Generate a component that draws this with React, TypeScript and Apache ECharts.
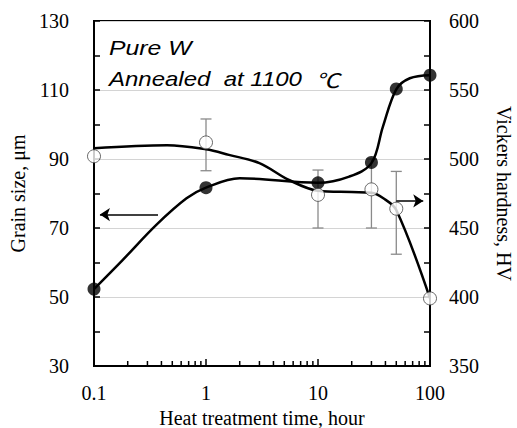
import React, { useEffect, useRef } from "react";
import * as echarts from "echarts";

// Measured points
const timeHours = [0.1, 1, 10, 30, 50, 100];
const grainSize = [52.3, 81.7, 83.1, 89.0, 110.3, 114.3];
const hardness = [502, 512, 474, 478, 464, 399];
const hardnessLow = [null, 491.5, 450, 450, 431, null];
const hardnessHigh = [null, 529, 492, 500, 491, null];

// Trend curves as drawn in the figure
const grainCurveTime = [0.1, 0.18, 0.36, 0.67, 1, 2, 10, 19, 30, 38, 50, 66, 100];
const grainCurve = [52.3, 60.7, 70.9, 78.6, 81.7, 84.4, 83.1, 84.9, 88.8, 99.4, 110.2, 113.4, 114.3];
const hardnessCurveTime = [0.1, 0.45, 1, 1.6, 3, 5.5, 10, 20, 30, 38, 50, 100];
const hardnessCurve = [507.8, 510, 507, 503, 497, 484.8, 477, 476, 475.5, 471.7, 463, 399];

// Axis ticks
const xMinorTicks = [0.2, 0.3, 0.4, 0.5, 0.6, 0.7, 0.8, 0.9, 2, 3, 4, 5, 6, 7, 8, 9, 20, 30, 40, 50, 60, 70, 80, 90];

// Arrows (data coordinates)
const leftArrowFrom = [0.373, 73.9];
const leftArrowTo = [0.113, 73.9];
const rightArrowFrom = [50, 469.6];
const rightArrowTo = [87, 469.6];

const serif = '"Liberation Serif", "Times New Roman", serif';
const italicFont = 'italic 20px "Liberation Sans", "Noto Sans CJK JP", sans-serif';

export default function App() {
  const ref = useRef<HTMLDivElement>(null);
  useEffect(() => {
    if (!ref.current) return;
    const chart = echarts.init(ref.current, null, { renderer: "svg" });
    const labelStyle = { fontFamily: serif, fontSize: 20, color: "#000" };
    const option: any = {
      animation: false,
      backgroundColor: "#fff",
      grid: {
        left: 94,
        right: 87,
        top: 21,
        bottom: 62,
        outerBoundsMode: "none",
        containLabel: false,
        show: true,
        borderColor: "#000",
        borderWidth: 2,
        backgroundColor: "transparent",
      },
      xAxis: {
        type: "log",
        logBase: 10,
        min: 0.1,
        max: 100,
        name: "Heat treatment time, hour",
        nameLocation: "middle",
        nameGap: 39,
        nameTextStyle: { ...labelStyle },
        axisLine: { lineStyle: { color: "#000", width: 2 } },
        axisTick: { show: true, inside: true, length: 7, lineStyle: { color: "#000", width: 1.5 } },
        minorTick: { show: false },
        splitLine: { show: false },
        axisLabel: {
          ...labelStyle,
          margin: 17,
          formatter: (v: number) => String(+v.toPrecision(3)),
        },
      },
      yAxis: [
        {
          type: "value",
          min: 30,
          max: 130,
          interval: 20,
          position: "left",
          name: "Grain size, μm",
          nameLocation: "middle",
          nameGap: 64,
          nameTextStyle: { ...labelStyle },
          axisLine: { show: true, lineStyle: { color: "#000", width: 2 } },
          axisTick: { show: true, inside: true, length: 6, lineStyle: { color: "#000", width: 1.5 } },
          minorTick: { show: true, splitNumber: 2, length: 6, lineStyle: { color: "#000", width: 1.5 } },
          splitLine: { show: true, lineStyle: { color: "#d4d4d4", width: 1 } },
          axisLabel: { ...labelStyle, margin: 25 },
        },
        {
          type: "value",
          min: 350,
          max: 600,
          interval: 50,
          position: "right",
          name: "Vickers hardness, HV",
          nameLocation: "middle",
          nameRotate: -90,
          nameGap: 64,
          nameTextStyle: { ...labelStyle },
          axisLine: { show: true, lineStyle: { color: "#000", width: 2 } },
          axisTick: { show: true, inside: true, length: 6, lineStyle: { color: "#000", width: 1.5 } },
          minorTick: { show: true, splitNumber: 2, length: 6, lineStyle: { color: "#000", width: 1.5 } },
          splitLine: { show: false },
          axisLabel: { ...labelStyle, margin: 19 },
        },
      ],
      graphic: [
        { type: "text", x: 109, y: 38, scaleX: 1.24, z: 100, style: { text: "Pure W", font: italicFont, fill: "#000", verticalAlign: "top" } },
        {
          type: "text",
          x: 109,
          y: 69,
          scaleX: 1.2,
          z: 100,
          style: {
            text: "{a|Annealed  at 1100  }{c|℃}",
            fill: "#000",
            verticalAlign: "top",
            rich: {
              a: { fontStyle: "italic", fontSize: 20, fontFamily: '"Liberation Sans", sans-serif', color: "#000" },
              c: { fontStyle: "italic", fontSize: 20, fontFamily: '"Noto Sans CJK JP", sans-serif', color: "#000" },
            },
          },
        },
      ],
      series: [
        {
          type: "custom",
          name: "xMinor",
          xAxisIndex: 0,
          yAxisIndex: 0,
          silent: true,
          clip: false,
          z: 5,
          data: xMinorTicks.map((v) => [v, 30]),
          renderItem: (params: any, api: any) => {
            const p = api.coord([api.value(0), api.value(1)]);
            return { type: "line", shape: { x1: p[0], y1: p[1], x2: p[0], y2: p[1] - 5 }, style: { stroke: "#000", lineWidth: 1.5 } };
          },
        },
        {
          type: "custom",
          name: "errors",
          yAxisIndex: 1,
          silent: true,
          z: 1,
          data: timeHours
            .map((t, i) => [t, hardnessLow[i], hardnessHigh[i]])
            .filter((d) => d[1] != null),
          renderItem: (params: any, api: any) => {
            const lo = api.coord([api.value(0), api.value(1)]);
            const hi = api.coord([api.value(0), api.value(2)]);
            const w = 5.5;
            const st = { stroke: "#8a8a8a", lineWidth: 1.3 };
            return {
              type: "group",
              children: [
                { type: "line", shape: { x1: lo[0], y1: lo[1], x2: hi[0], y2: hi[1] }, style: st },
                { type: "line", shape: { x1: lo[0] - w, y1: lo[1], x2: lo[0] + w, y2: lo[1] }, style: st },
                { type: "line", shape: { x1: hi[0] - w, y1: hi[1], x2: hi[0] + w, y2: hi[1] }, style: st },
              ],
            };
          },
        },
        {
          type: "line",
          name: "grainCurve",
          yAxisIndex: 0,
          smooth: 0.35,
          showSymbol: false,
          z: 2,
          lineStyle: { color: "#000", width: 2.5 },
          data: grainCurveTime.map((t, i) => [t, grainCurve[i]]),
          markLine: {
            silent: true,
            symbol: ["none", "arrow"],
            symbolSize: 10,
            lineStyle: { color: "#000", width: 1.5, type: "solid" },
            label: { show: false },
            data: [[{ coord: leftArrowFrom }, { coord: leftArrowTo }]],
          },
        },
        {
          type: "line",
          name: "hardnessCurve",
          yAxisIndex: 1,
          smooth: 0.35,
          showSymbol: false,
          z: 2,
          lineStyle: { color: "#000", width: 2.5 },
          data: hardnessCurveTime.map((t, i) => [t, hardnessCurve[i]]),
          markLine: {
            silent: true,
            symbol: ["none", "arrow"],
            symbolSize: 10,
            lineStyle: { color: "#000", width: 1.5, type: "solid" },
            label: { show: false },
            data: [[{ coord: rightArrowFrom }, { coord: rightArrowTo }]],
          },
        },
        {
          type: "scatter",
          name: "Grain size",
          yAxisIndex: 0,
          symbol: "circle",
          symbolSize: 13,
          z: 4,
          itemStyle: { color: "#000" },
          data: timeHours.map((t, i) => [t, grainSize[i]]),
        },
        {
          type: "scatter",
          name: "Hardness",
          yAxisIndex: 1,
          symbol: "circle",
          symbolSize: 13,
          z: 4,
          itemStyle: { color: "#fff", borderColor: "#444", borderWidth: 1 },
          data: timeHours.map((t, i) => [t, hardness[i]]),
        },
      ],
    };
    chart.setOption(option);
    return () => chart.dispose();
  }, []);
  return <div ref={ref} style={{ position: "absolute", left: 0, top: 0, width: 517, height: 428 }} />;
}
